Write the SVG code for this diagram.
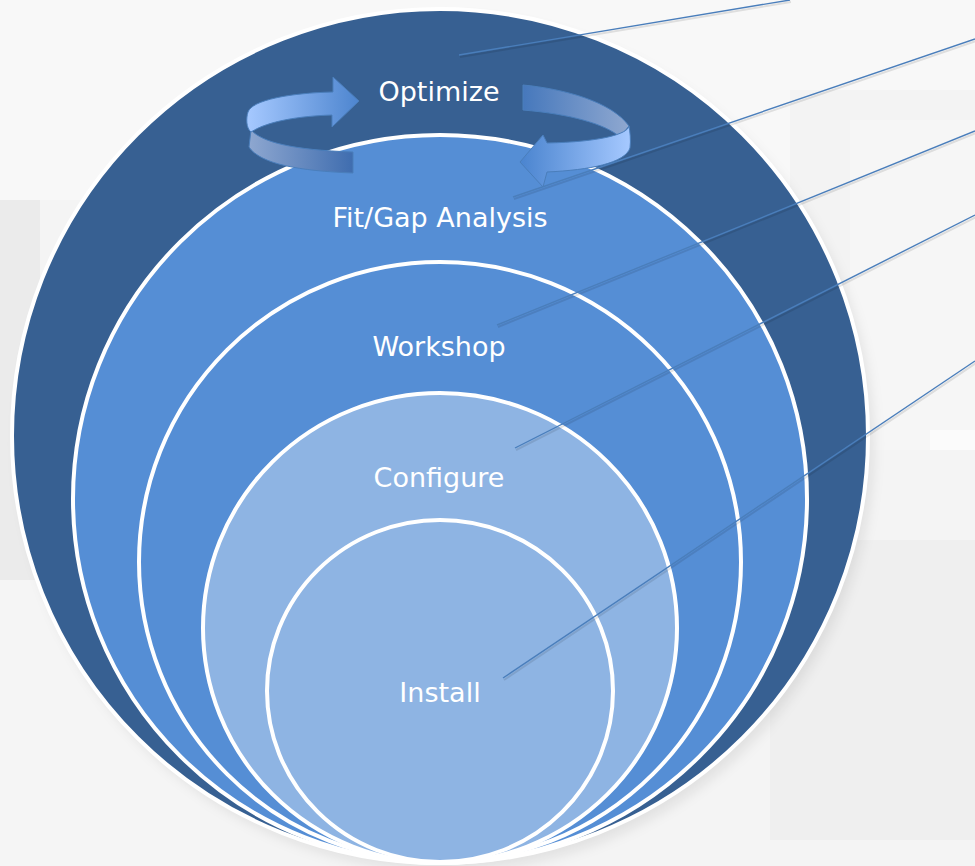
<svg xmlns="http://www.w3.org/2000/svg" width="975" height="866" viewBox="0 0 975 866">
  <defs>
    <style>
      .ring { stroke: #ffffff; stroke-width: 4; }
      .label { font-family: "DejaVu Sans", "Liberation Sans", sans-serif; font-size: 27px; fill: #ffffff; text-anchor: middle; }
      .leader { stroke: #4a7ebb; stroke-width: 1.4; fill: none; }
      .leader-shadow { stroke: #000000; stroke-opacity: 0.1; stroke-width: 2; fill: none; }
      .arrow-edge { stroke: #4a7ebb; stroke-width: 1; stroke-linejoin: round; }
    </style>
    <linearGradient id="gFrontL" x1="0" y1="0" x2="1" y2="0">
      <stop offset="0" stop-color="#a6c9ff"/>
      <stop offset="1" stop-color="#4d85cf"/>
    </linearGradient>
    <linearGradient id="gBackL" x1="0" y1="0" x2="1" y2="0">
      <stop offset="0" stop-color="#8ea7d0"/>
      <stop offset="1" stop-color="#3f6daf"/>
    </linearGradient>
    <linearGradient id="gBackR" x1="0" y1="0" x2="1" y2="0">
      <stop offset="0" stop-color="#4678bc"/>
      <stop offset="1" stop-color="#8fa8d0"/>
    </linearGradient>
    <linearGradient id="gFrontR" x1="0" y1="0" x2="1" y2="0">
      <stop offset="0" stop-color="#4a84cf"/>
      <stop offset="1" stop-color="#a6c9ff"/>
    </linearGradient>
    <filter id="soft" x="-10%" y="-10%" width="120%" height="120%">
      <feGaussianBlur stdDeviation="6"/>
    </filter>
  </defs>

  <!-- background -->
  <g id="background">
    <rect x="0" y="0" width="975" height="866" fill="#f4f4f4"/>
    <rect x="0" y="0" width="975" height="200" fill="#f8f8f8"/>
    <rect x="0" y="200" width="40" height="380" fill="#ebebeb"/>
    <rect x="790" y="90" width="185" height="220" fill="#f3f3f3"/>
    <rect x="850" y="120" width="125" height="330" fill="#f6f6f6"/>
    <rect x="930" y="430" width="45" height="20" fill="#fbfbfb"/>
    <rect x="770" y="540" width="205" height="300" fill="#efefef"/>
    <rect x="0" y="580" width="200" height="286" fill="#f5f5f5"/>
  </g>

  <!-- soft shadow of the outer ring -->
  <ellipse cx="446" cy="444" rx="428" ry="427" fill="#000000" fill-opacity="0.08" filter="url(#soft)"/>

  <g id="node-optimize">
    <ellipse class="ring" cx="440" cy="436" rx="428" ry="427" fill="#376092" stroke-width="3"/>
    <text class="label" x="439" y="101">Optimize</text>
  </g>
  <g id="node-fitgap">
    <ellipse class="ring" cx="440" cy="499" rx="367" ry="364" fill="#558ed5"/>
    <text class="label" x="440" y="227">Fit/Gap Analysis</text>
  </g>
  <g id="node-workshop">
    <ellipse class="ring" cx="440" cy="562" rx="301" ry="300" fill="#558ed5"/>
    <text class="label" x="439" y="356">Workshop</text>
  </g>
  <g id="node-configure">
    <ellipse class="ring" cx="440" cy="628" rx="237" ry="235" fill="#8eb4e3"/>
    <text class="label" x="439" y="487">Configure</text>
  </g>
  <g id="node-install">
    <ellipse class="ring" cx="440" cy="691" rx="173" ry="171" fill="#8eb4e3"/>
    <text class="label" x="440" y="702">Install</text>
  </g>

  <!-- cycle arrows -->
  <g id="cycle-arrows">
    <path class="arrow-edge" fill="url(#gBackL)" d="M 251,130 C 262,142 292,150 353,152 L 353,173 C 300,171 260,164 249,147 Z"/>
    <path class="arrow-edge" fill="url(#gFrontL)" d="M 248,112 C 252,100 290,93 333,92 L 333,77 L 359,101 L 332,127 L 332,115 C 300,116 268,121 251,132 C 246,128 246,118 248,112 Z"/>
    <path class="arrow-edge" fill="url(#gBackR)" d="M 523,85 C 565,89 612,102 629,126 L 620,137 C 605,124 570,114 523,110 Z"/>
    <path class="arrow-edge" fill="url(#gFrontR)" d="M 629,126 C 628,134 600,142 547,143 L 543,135 L 520,162 L 543,187 L 547,172 C 590,170 625,163 630,148 C 631,140 630,132 629,126 Z"/>
  </g>

  <!-- leader lines -->
  <g id="connectors">
    <g transform="translate(1,2)">
      <line class="leader-shadow" x1="459" y1="55" x2="790" y2="0"/>
      <line class="leader-shadow" x1="513" y1="197" x2="975" y2="39"/>
      <line class="leader-shadow" x1="497" y1="325" x2="975" y2="131"/>
      <line class="leader-shadow" x1="515" y1="448" x2="975" y2="215"/>
      <line class="leader-shadow" x1="503" y1="678" x2="975" y2="361"/>
    </g>
    <line class="leader" x1="459" y1="55" x2="790" y2="0"/>
    <line class="leader" x1="513" y1="197" x2="975" y2="39"/>
    <line class="leader" x1="497" y1="325" x2="975" y2="131"/>
    <line class="leader" x1="515" y1="448" x2="975" y2="215"/>
    <line class="leader" x1="503" y1="678" x2="975" y2="361"/>
  </g>
</svg>
